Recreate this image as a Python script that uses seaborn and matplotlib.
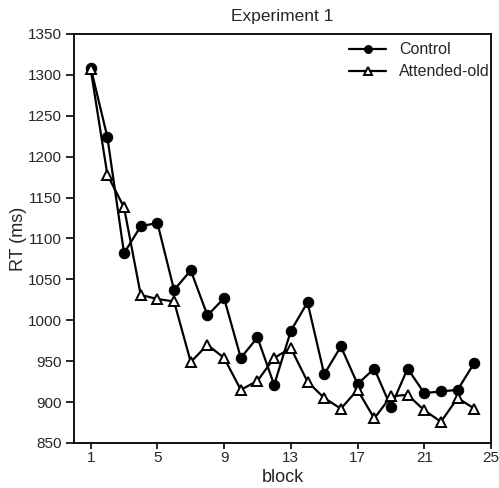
import numpy as np
import pandas as pd
import seaborn as sns
import matplotlib.pyplot as plt

# --- data ---
blocks = list(range(1, 25))
control = [1309, 1224, 1082, 1115, 1119, 1037, 1061, 1006, 1027, 954, 979, 921,
           987, 1022, 934, 968, 922, 941, 894, 941, 911, 913, 915, 948]
attended_old = [1307, 1178, 1138, 1031, 1026, 1023, 949, 970, 954, 915, 926, 954,
                966, 925, 905, 892, 915, 880, 907, 909, 890, 876, 905, 892]
x_ticks = [1, 5, 9, 13, 17, 21, 25]
y_ticks = list(range(850, 1351, 50))

df = pd.DataFrame({
    'block': blocks * 2,
    'RT': control + attended_old,
    'condition': ['Control'] * len(blocks) + ['Attended-old'] * len(blocks),
})

sns.set_style("ticks")
plt.rcParams['font.family'] = ['Liberation Sans', 'DejaVu Sans']

fig = plt.figure(figsize=(4.99, 4.88), dpi=100)
ax = fig.add_axes([74 / 499, 1 - 443 / 488, (491 - 74) / 499, (443 - 34) / 488])

sns.lineplot(data=df, x='block', y='RT', hue='condition', style='condition',
             palette=['black', 'black'], markers={'Control': 'o', 'Attended-old': '^'},
             dashes=False, linewidth=1.6, markersize=7.5, ax=ax)

# make the triangles hollow
for line in ax.lines:
    if line.get_marker() == '^':
        line.set_markerfacecolor('white')
        line.set_markeredgecolor('black')
        line.set_markeredgewidth(1.4)
    else:
        line.set_markerfacecolor('black')
        line.set_markeredgecolor('black')

ax.set_xlim(0, 25)
ax.set_ylim(850, 1350)
ax.set_xticks(x_ticks)
ax.set_yticks(y_ticks)
ax.tick_params(direction='out', width=1.2, labelsize=11, color='black')
ax.tick_params(axis='x', length=4, pad=2)
ax.tick_params(axis='y', length=6, pad=3)
for s in ax.spines.values():
    s.set_linewidth(1.3)
    s.set_color('black')

ax.set_xlabel('block', fontsize=13, labelpad=3)
ax.set_ylabel('RT (ms)', fontsize=13, labelpad=0.5)
ax.set_title('Experiment 1', fontsize=12.5, pad=9)

handles, labels = ax.get_legend_handles_labels()
for h in handles:
    if h.get_marker() == '^':
        h.set_markerfacecolor('white')
        h.set_markeredgewidth(1.4)
ax.legend(handles, labels, loc='upper right', bbox_to_anchor=(0.997, 0.98),
          frameon=False, fontsize=11.5, handlelength=2.3, handletextpad=0.8,
          borderpad=0, borderaxespad=0, labelspacing=0.45, markerscale=0.75)

plt.savefig('out.png', dpi=100)
